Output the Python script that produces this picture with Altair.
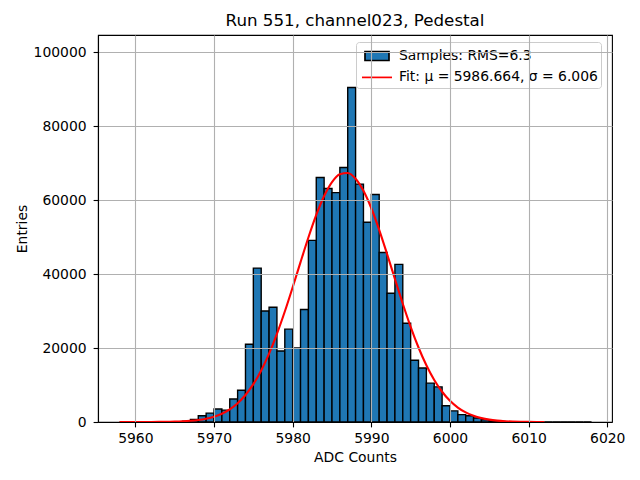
import altair as alt
import pandas as pd

# Histogram bins (left edges, width 1) and counts
bin_starts = list(range(5958, 6018))
counts = [
    0, 0, 0, 0, 0, 0, 10, 40, 200, 700,          # 5958-5967
    1700, 2400, 3500, 3200, 6200, 8600, 21000, 41600, 30000, 31000,  # 5968-5977
    19200, 25100, 20000, 30400, 49100, 66100, 63100, 62000, 68800, 90400,  # 5978-5987
    64300, 54000, 61500, 45800, 34800, 42600, 26700, 16700, 14600, 10500,  # 5988-5997
    9500, 4400, 3000, 2000, 1700, 1100, 600, 300, 150, 60,  # 5998-6007
    20, 0, 0, 0, 0, 0, 0, 0, 0, 0,  # 6008-6017
]

# Fit curve
fit_x = list(range(5958, 6013))
fit_y = [
    1, 2, 4, 7, 15, 29, 55, 101, 181, 317,
    539, 892, 1436, 2247, 3420, 5068, 7300, 10224, 13932, 18468,
    23812, 29858, 36416, 43203, 49856, 55955, 61085, 64859, 66989, 67295,
    65755, 62486, 57769, 51940, 45421, 38640, 31968, 25727, 20139, 15334,
    11350, 8176, 5729, 3902, 2587, 1667, 1045, 638, 379, 219,
    123, 67, 36, 18, 9,
]

x_ticks = [5960, 5970, 5980, 5990, 6000, 6010, 6020]
y_ticks = [0, 20000, 40000, 60000, 80000, 100000]

lbl_samples = "Samples: RMS=6.3"
lbl_fit = "Fit: \u03bc = 5986.664, \u03c3 = 6.006"

hist_df = pd.DataFrame({
    "start": bin_starts,
    "end": [b + 1 for b in bin_starts],
    "count": counts,
    "series": lbl_samples,
})
fit_df = pd.DataFrame({"x": fit_x, "y": fit_y, "series": lbl_fit})

FONT = "DejaVu Sans"
xscale = alt.Scale(domain=[5955.25, 6020.6], nice=False, zero=False)
yscale = alt.Scale(domain=[0, 104600], nice=False)
sscale = alt.Scale(domain=[lbl_samples, lbl_fit], range=["black", "red"])

is_s = f"datum.value == '{lbl_samples}'"
rect_path = "M-1.2,-0.45L1.2,-0.45L1.2,0.45L-1.2,0.45Z"
line_path = "M-1.5,0L1.5,0"
legend = alt.Legend(
    title=None,
    orient="none",
    legendX=258,
    legendY=7,
    symbolType={"expr": f"{is_s} ? '{rect_path}' : '{line_path}'"},
    symbolFillColor="#1f77b4",
    symbolStrokeWidth=1.7,
    symbolSize=400,
    symbolOffset=7,
    labelOffset=11,
    labelFont=FONT,
    labelFontSize=13.9,
    labelColor="black",
    labelLimit=400,
    rowPadding=2.4,
    padding=3,
    fillColor="rgba(255,255,255,0.8)",
    strokeColor="#cccccc",
    cornerRadius=3,
)

xaxis = alt.Axis(values=x_ticks, format="d", title="ADC Counts", labelPadding=4.8,
                 titlePadding=5, labelFlush=False, labelOverlap=False, zindex=1)
yaxis = alt.Axis(values=y_ticks, format="d", title="Entries", labelPadding=7,
                 titlePadding=4, labelOverlap=False, zindex=1)

bars = alt.Chart(hist_df).mark_bar(fill="#1f77b4", strokeWidth=1.39, opacity=1).encode(
    x=alt.X("start:Q", scale=xscale, axis=xaxis),
    x2="end:Q",
    y=alt.Y("count:Q", scale=yscale, axis=yaxis),
    y2=alt.datum(0),
    stroke=alt.Stroke("series:N", scale=sscale, legend=legend),
)

line = alt.Chart(fit_df).mark_line(strokeWidth=2.1, interpolate="monotone").encode(
    x=alt.X("x:Q", scale=xscale),
    y=alt.Y("y:Q", scale=yscale),
    stroke=alt.Stroke("series:N", scale=sscale, legend=legend),
)

chart = alt.layer(bars, line).properties(
    width=514,
    height=387,
    padding={"left": 90, "top": 27, "right": 18, "bottom": 50},
    autosize=alt.AutoSizeParams(type="none"),
    title=alt.Title("Run 551, channel023, Pedestal", font=FONT, fontSize=16.7,
                    fontWeight="normal", color="black", offset=5),
).configure_view(
    stroke="black", strokeWidth=1.1
).configure_axis(
    labelFont=FONT, labelFontSize=13.9, labelColor="black",
    titleFont=FONT, titleFontSize=13.9, titleFontWeight="normal", titleColor="black",
    tickColor="black", tickWidth=1.1, tickSize=4.9,
    domainColor="black", domainWidth=1.1,
    grid=True, gridColor="#b0b0b0", gridWidth=1.1,
)

chart.save("out.html", embed_options={"renderer": "svg", "actions": False})
